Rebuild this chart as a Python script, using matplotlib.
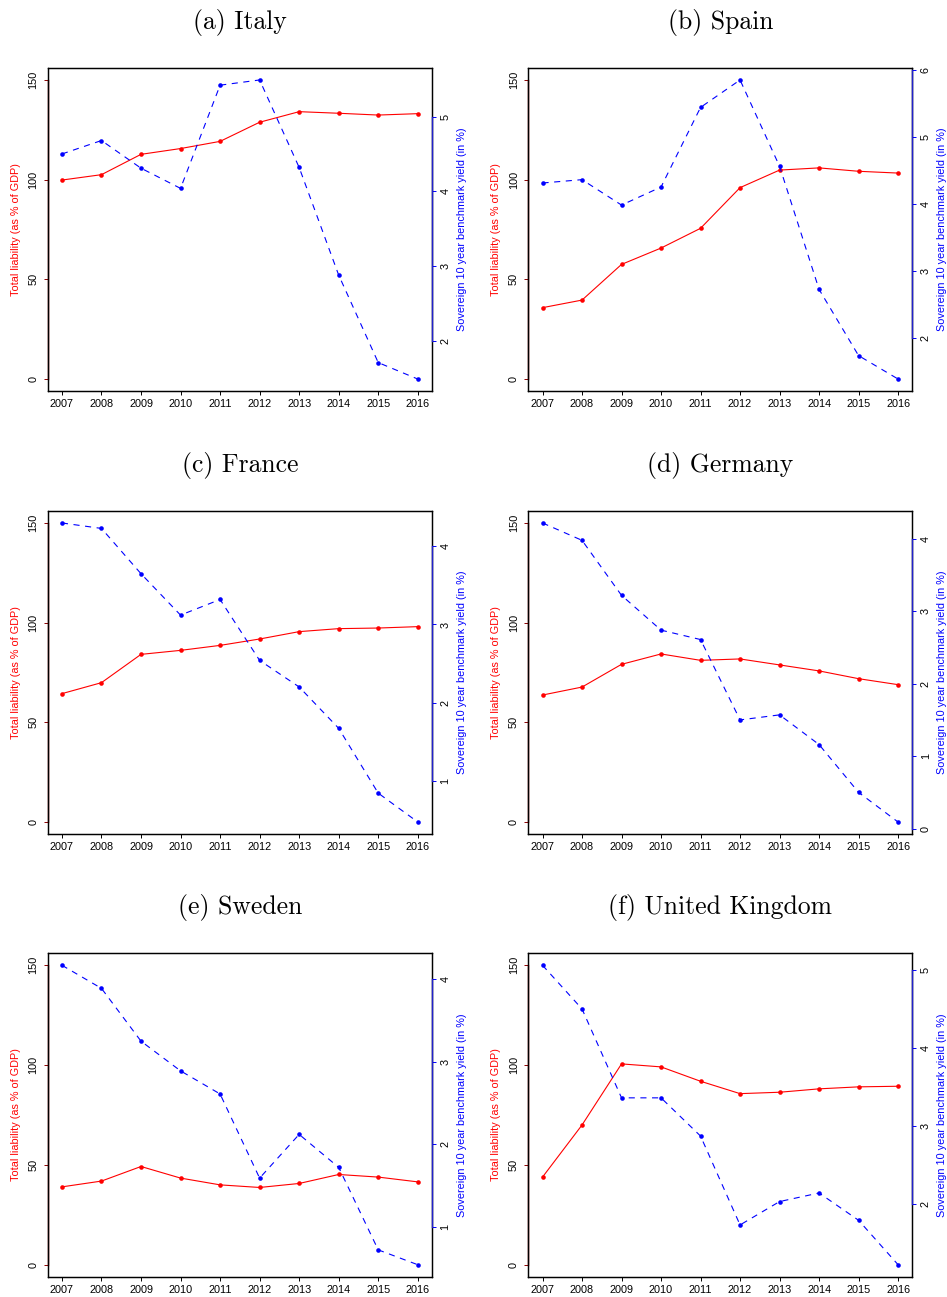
import matplotlib
matplotlib.use("Agg")
import matplotlib.pyplot as plt
from matplotlib.ticker import MultipleLocator, FixedLocator

plt.rcParams['font.family'] = ['Liberation Sans', 'DejaVu Sans']

years = list(range(2007, 2017))

titles = ["(a) Italy", "(b) Spain", "(c) France", "(d) Germany",
          "(e) Sweden", "(f) United Kingdom"]

# Total liability (as % of GDP)
italy_liab = [99.8, 102.5, 112.7, 115.6, 119.2, 128.8, 134.1, 133.3, 132.4, 133.1]
spain_liab = [35.8, 39.6, 57.5, 65.7, 75.6, 96.0, 104.8, 105.9, 104.2, 103.3]
france_liab = [64.4, 69.9, 84.1, 86.1, 88.6, 91.8, 95.5, 97.0, 97.3, 98.0]
germany_liab = [63.7, 67.7, 79.1, 84.3, 81.1, 81.8, 78.8, 75.8, 71.9, 68.9]
sweden_liab = [39.0, 41.9, 49.2, 43.4, 40.0, 38.7, 40.7, 45.2, 43.9, 41.5]
uk_liab = [43.9, 70.0, 100.6, 99.1, 91.9, 85.7, 86.4, 88.1, 89.1, 89.4]

# Sovereign 10 year benchmark yield (in %)
italy_yield = [4.50, 4.68, 4.31, 4.04, 5.42, 5.49, 4.32, 2.88, 1.71, 1.49]
spain_yield = [4.31, 4.36, 3.98, 4.25, 5.44, 5.85, 4.56, 2.72, 1.73, 1.38]
france_yield = [4.30, 4.23, 3.65, 3.12, 3.32, 2.54, 2.20, 1.67, 0.84, 0.47]
germany_yield = [4.22, 3.98, 3.22, 2.74, 2.61, 1.50, 1.57, 1.16, 0.50, 0.09]
sweden_yield = [4.17, 3.89, 3.25, 2.89, 2.61, 1.59, 2.12, 1.72, 0.72, 0.54]
uk_yield = [5.06, 4.50, 3.36, 3.36, 2.87, 1.73, 2.03, 2.14, 1.79, 1.22]

liabs = [italy_liab, spain_liab, france_liab, germany_liab, sweden_liab, uk_liab]
yields = [italy_yield, spain_yield, france_yield, germany_yield, sweden_yield, uk_yield]

left_ticks = [0, 50, 100, 150]
left_label = "Total liability (as % of GDP)"
right_label = "Sovereign 10 year benchmark yield (in %)"

W, H = 947, 1297
fig = plt.figure(figsize=(W / 100, H / 100), dpi=100)

col_x = [(47.7, 432.0), (528.3, 912.3)]
row_y = [(68.0, 391.0), (511.0, 834.0), (953.3, 1276.7)]
title_base = [29.0, 471.7, 914.0]

FS = 7.8

def rext(lo, hi, f=0.04):
    r = hi - lo
    return lo - f * r, hi + f * r

for i in range(6):
    r, c = divmod(i, 2)
    x0, x1 = col_x[c]
    y0, y1 = row_y[r]
    ax = fig.add_axes([x0 / W, 1 - y1 / H, (x1 - x0) / W, (y1 - y0) / H])
    ax.plot(years, liabs[i], color='red', lw=0.8, marker='o', ms=3.3,
            mew=0, zorder=3)
    ax.set_xlim(*rext(years[0], years[-1]))
    ax.set_ylim(*rext(0, 150))
    ax.xaxis.set_major_locator(FixedLocator(years))
    ax.yaxis.set_major_locator(FixedLocator(left_ticks))
    ax.tick_params(axis='x', length=3.2, width=0.7, pad=2.5, labelsize=FS,
                   colors='black')
    ax.tick_params(axis='y', length=3.2, width=0.7, pad=3.5, labelsize=FS,
                   labelrotation=90, color='#8b0000', labelcolor='black')
    for lab in ax.get_yticklabels():
        lab.set_va('center')
    for s in ax.spines.values():
        s.set_linewidth(0.9)
        s.set_color('black')
    # coloured axis line over the box (left)
    ax.plot([0, 0], [left_ticks[0], left_ticks[-1]], color='#8b0000', lw=1.0,
            transform=ax.get_yaxis_transform(), clip_on=False, zorder=5)

    ax2 = ax.twinx()
    yv = yields[i]
    ax2.plot(years, yv, color='blue', lw=0.8, ls=(0, (5.5, 5.0)), marker='o',
             ms=3.3, mew=0, zorder=3)
    ax2.set_ylim(*rext(min(yv), max(yv)))
    ax2.yaxis.set_major_locator(MultipleLocator(1))
    ax2.tick_params(axis='y', length=3.2, width=0.7, pad=3.0, labelsize=FS,
                    labelrotation=90, color='blue', labelcolor='black')
    for lab in ax2.get_yticklabels():
        lab.set_va('center')
    for s in ax2.spines.values():
        s.set_linewidth(0.9)
        s.set_color('black')
    lo2, hi2 = ax2.get_ylim()
    tks = [t for t in ax2.get_yticks() if lo2 <= t <= hi2]
    ax2.plot([1, 1], [tks[0], tks[-1]], color='#2222cc', lw=1.0,
             transform=ax2.get_yaxis_transform(), clip_on=False, zorder=5)

    # axis labels
    yc = 1 - ((y0 + y1) / 2) / H
    fig.text((x0 - 32) / W, yc, left_label, color='red', rotation=90,
             ha='center', va='center', fontsize=FS)
    fig.text((x1 + 29.5) / W, yc, right_label, color='blue', rotation=90,
             ha='center', va='center', fontsize=FS)

    # panel title
    fig.text(((x0 + x1) / 2) / W, 1 - title_base[r] / H, titles[i],
             family='cmr10', fontsize=18.5, ha='center', va='baseline')

fig.savefig("out.png", dpi=100)
